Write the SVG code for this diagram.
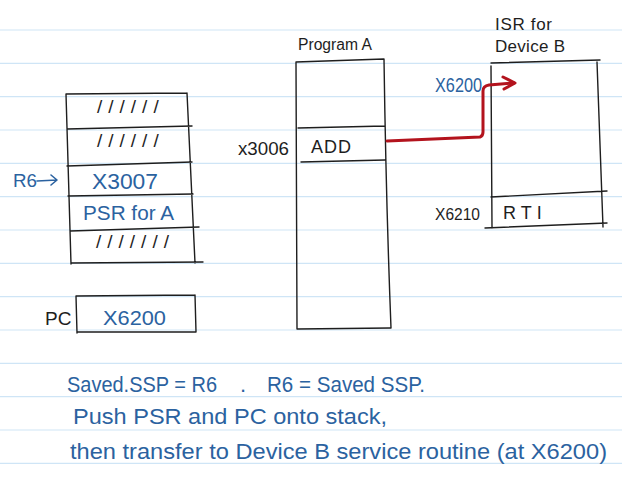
<svg xmlns="http://www.w3.org/2000/svg" width="622" height="478" viewBox="0 0 622 478">
<defs>
<style>
.rule{stroke:#cfe5f6;stroke-width:1.2}
.box{fill:none;stroke:#1e1e1e;stroke-width:1.4;stroke-linecap:round}
.blk{font-family:"Liberation Sans",Arial,sans-serif;fill:#1e1e1e}
.blu{font-family:"Liberation Sans",Arial,sans-serif;fill:#2b62a0}
.sl{font-family:"Liberation Sans",Arial,sans-serif;fill:#1e1e1e;font-size:19px;letter-spacing:6px}
.red{fill:none;stroke:#b3131d;stroke-width:3;stroke-linecap:round;stroke-linejoin:round}
</style>
</defs>
<rect width="622" height="478" fill="#ffffff"/>
<g id="ruled-paper">
<line class="rule" x1="0" y1="30" x2="622" y2="30"/>
<line class="rule" x1="0" y1="63.3" x2="622" y2="63.3"/>
<line class="rule" x1="0" y1="96.7" x2="622" y2="96.7"/>
<line class="rule" x1="0" y1="130" x2="622" y2="130"/>
<line class="rule" x1="0" y1="163.3" x2="622" y2="163.3"/>
<line class="rule" x1="0" y1="196.7" x2="622" y2="196.7"/>
<line class="rule" x1="0" y1="230" x2="622" y2="230"/>
<line class="rule" x1="0" y1="263.3" x2="622" y2="263.3"/>
<line class="rule" x1="0" y1="296.7" x2="622" y2="296.7"/>
<line class="rule" x1="0" y1="330" x2="622" y2="330"/>
<line class="rule" x1="0" y1="363.3" x2="622" y2="363.3"/>
<line class="rule" x1="0" y1="396.7" x2="622" y2="396.7"/>
<line class="rule" x1="0" y1="430" x2="622" y2="430"/>
<line class="rule" x1="0" y1="463.3" x2="622" y2="463.3"/>
</g>

<g id="stack">
<path class="box" d="M66,94 L187,93 M66,94 L71,264 M187,93 L195,263 M67,129 L192,126 M67,166 L192,162 M68,196 L193,194 M70,231 L199,227 M71,263 L203,262"/>
<text class="sl" x="97" y="113">//////</text>
<text class="sl" x="97" y="147">//////</text>
<text class="blu" x="92" y="189" font-size="22" textLength="66" lengthAdjust="spacingAndGlyphs">X3007</text>
<text class="blu" x="83" y="220" font-size="20" textLength="91" lengthAdjust="spacingAndGlyphs">PSR for A</text>
<text class="sl" x="96" y="248" letter-spacing="5">///////</text>
</g>

<g id="r6-pointer">
<text class="blu" x="13" y="187" font-size="19" textLength="24" lengthAdjust="spacingAndGlyphs">R6</text>
<path d="M37,181 L57,180 M51,175 L57,180 L51,185" fill="none" stroke="#2b62a0" stroke-width="1.6" stroke-linecap="round" stroke-linejoin="round"/>
</g>

<g id="pc-register">
<text class="blk" x="45" y="325" font-size="19">PC</text>
<path class="box" d="M76,296 L195,295 M76,296 L77,333 M195,295 L196,332 M77,332 L195,332"/>
<text class="blu" x="103" y="325" font-size="21" textLength="63" lengthAdjust="spacingAndGlyphs">X6200</text>
</g>

<g id="program-a">
<text class="blk" x="298" y="50" font-size="16" textLength="74" lengthAdjust="spacingAndGlyphs">Program A</text>
<path class="box" d="M296,62 L384,59 M296,62 Q296,200 297,329 M384,59 Q386,200 391,328 M298,128 L385,126 M301,162 L385,160 M297,329 L390,328"/>
<text class="blk" x="238" y="155" font-size="18" textLength="51" lengthAdjust="spacingAndGlyphs">x3006</text>
<text class="blk" x="311" y="153" font-size="18" letter-spacing="1">ADD</text>
</g>

<g id="isr-device-b">
<text class="blk" x="495" y="30" font-size="17" textLength="57" lengthAdjust="spacing">ISR for</text>
<text class="blk" x="495" y="52" font-size="17" textLength="70" lengthAdjust="spacing">Device B</text>
<path class="box" d="M491,63 L600,60 M491,66 L492,228 M597,62 L603,227 M491,197 L607,191 M485,228 L607,223"/>
<text class="blu" x="435" y="92" font-size="20" textLength="47" lengthAdjust="spacingAndGlyphs">X6200</text>
<text class="blk" x="435" y="220" font-size="17" textLength="45" lengthAdjust="spacingAndGlyphs">X6210</text>
<text class="blk" x="503" y="219" font-size="18" letter-spacing="5">RTI</text>
</g>

<g id="connectors">
<path class="red" d="M387,141 L480,137 Q483,136 483,132 L483,91 Q483,86 489,85 L514,83"/>
<path class="red" d="M503,77 L515,83 L504,89"/>
</g>

<g id="notes">
<text class="blu" x="67" y="392" font-size="22" textLength="150" lengthAdjust="spacingAndGlyphs">Saved.SSP = R6</text>
<text class="blu" x="240" y="392" font-size="22">.</text>
<text class="blu" x="267" y="392" font-size="22" textLength="158" lengthAdjust="spacingAndGlyphs">R6 = Saved SSP.</text>
<text class="blu" x="73" y="424" font-size="22" textLength="314" lengthAdjust="spacingAndGlyphs">Push PSR and PC onto stack,</text>
<text class="blu" x="70" y="459" font-size="22" textLength="537" lengthAdjust="spacingAndGlyphs">then transfer to Device B service routine (at X6200)</text>
</g>
</svg>
